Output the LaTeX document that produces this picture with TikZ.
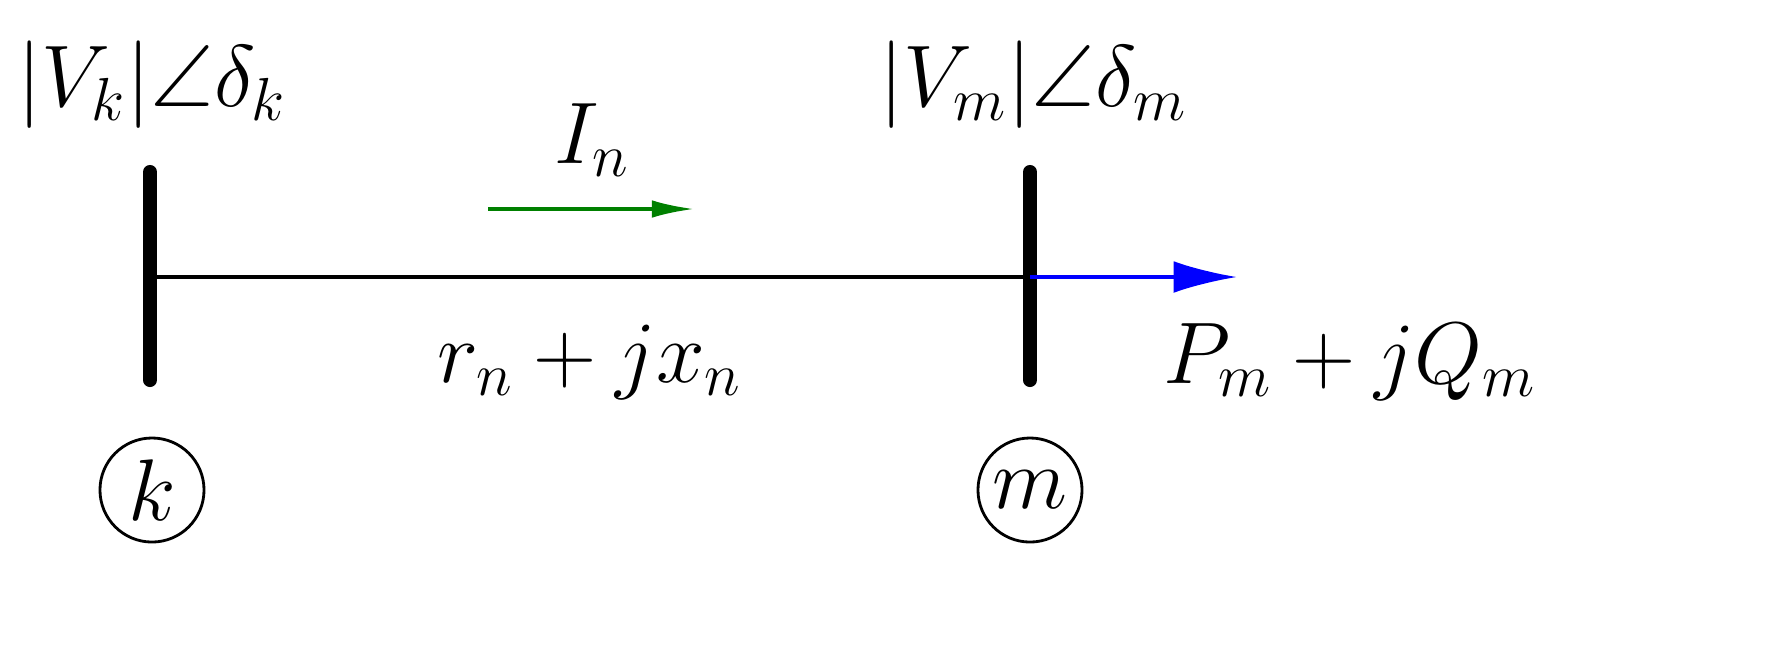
\documentclass[tikz,border=0pt]{standalone}
\usepackage{amssymb}
\usetikzlibrary{arrows.meta}
\begin{document}
\begin{tikzpicture}[x=0.01cm,y=-0.01cm,
  lbl/.style={font=\fontsize{25}{30}\selectfont},
  bus/.style={line width=4pt,line cap=round},
  circ/.style={draw,circle,thick,minimum size=1.04cm,inner sep=0pt,font=\fontsize{25}{30}\selectfont}]
\useasboundingbox (0,0) rectangle (1791,650);
\coordinate (kt) at (150,172); \coordinate (kb) at (150,380);
\coordinate (mt) at (1030,172); \coordinate (mb) at (1030,380);
\coordinate (ka) at (150,277); \coordinate (ma) at (1030,277);
\coordinate (pe) at (1237,277);
\coordinate (is) at (488,209); \coordinate (ie) at (694,209);
\draw[bus] (kt) -- (kb);
\draw[bus] (mt) -- (mb);
\draw[line width=1pt] (ka) -- (ma);
\draw[blue,line width=1pt,-{Latex[length=18pt,width=9pt]}] (ma) -- (pe);
\draw[green!50!black,line width=1pt,-{Latex[length=12pt,width=5pt]}] (is) -- (ie);
\node[lbl] (vk) at (152,85) {$|V_k|\angle\delta_k$};
\node[lbl] (vm) at (1033,85) {$|V_m|\angle\delta_m$};
\node[lbl] (in) at (592,140) {$I_n$};
\node[lbl] (z) at (590,362) {$r_n+jx_n$};
\node[lbl] (pq) at (1350,362) {$P_m+jQ_m$};
\node[circ] (k) at (152,490) {$k$};
\node[circ] (m) at (1030,490) {$m$};
\end{tikzpicture}
\end{document}
